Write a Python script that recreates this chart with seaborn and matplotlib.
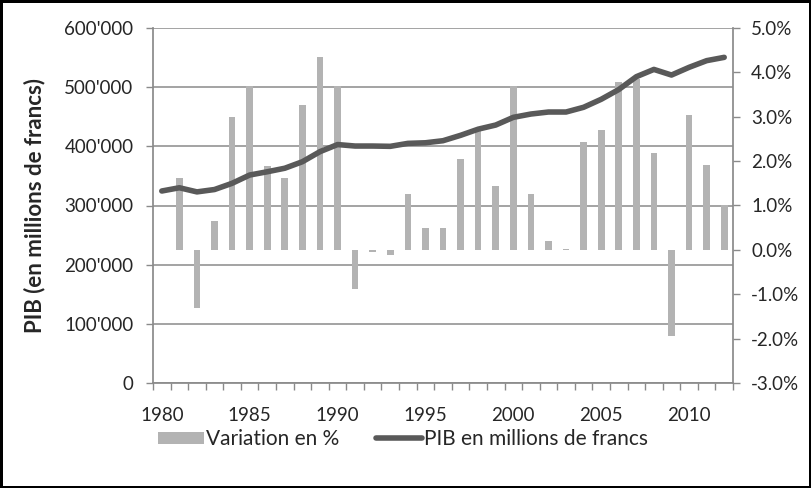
import numpy as np
import pandas as pd
import matplotlib
matplotlib.use("Agg")
import matplotlib.pyplot as plt
import seaborn as sns
from matplotlib.patches import Patch
from matplotlib.lines import Line2D
from matplotlib.ticker import FuncFormatter, FixedLocator

# ---- data ----
years = list(range(1980, 2013))
pib = [324500, 330000, 323000, 327000, 337500, 351500, 357000, 363000, 374000, 391000,
       403000, 400500, 400500, 400000, 405000, 406000, 409500, 418600, 429000, 436000,
       449000, 454600, 458000, 458000, 466000, 479500, 496000, 517700, 530000, 520500,
       533500, 544800, 550400]
var_years = list(range(1981, 2013))
variation = [1.61, -1.31, 0.65, 3.00, 3.69, 1.89, 1.61, 3.27, 4.35, 3.69,
             -0.89, -0.04, -0.12, 1.26, 0.49, 0.49, 2.04, 2.68, 1.43, 3.69,
             1.26, 0.19, 0.02, 2.43, 2.70, 3.78, 3.86, 2.19, -1.94, 3.04,
             1.92, 1.01]
left_ticks = [0, 100000, 200000, 300000, 400000, 500000, 600000]
right_ticks = [-3, -2, -1, 0, 1, 2, 3, 4, 5]
label_years = [1980, 1985, 1990, 1995, 2000, 2005, 2010]

sns.set_theme(style="white")
plt.rcParams['font.family'] = ['Lato', 'DejaVu Sans']

BAR = '#b3b3b3'
LINE = '#595959'
GRID = '#8a8a8a'
FS = 13.5

fig = plt.figure(figsize=(8.11, 4.88), dpi=100)
fig.patch.set_facecolor('white')
fig.patch.set_edgecolor('black')
fig.patch.set_linewidth(2.5)

W, H = 811, 488
x0, x1, ytop, ybot = 153, 733, 28, 383
rect = [x0 / W, 1 - ybot / H, (x1 - x0) / W, (ybot - ytop) / H]

ax = fig.add_axes(rect)          # left axis + grid
ax2 = ax.twinx()                 # right axis, bars
ax3 = ax.twinx()                 # line on left scale

n = len(years)
df_var = pd.DataFrame({"year": [str(y) for y in var_years], "var": variation})
sns.barplot(data=df_var, x="year", y="var", order=[str(y) for y in years],
            color=BAR, saturation=1, width=0.38, ax=ax2, linewidth=0)

df_pib = pd.DataFrame({"pos": np.arange(n), "pib": pib})
sns.lineplot(data=df_pib, x="pos", y="pib", ax=ax3, color=LINE, linewidth=4,
             solid_capstyle='round', solid_joinstyle='round')

# left axis
ax.set_ylim(0, 600000)
ax.set_yticks(left_ticks)
ax.yaxis.set_major_formatter(FuncFormatter(lambda v, p: f"{int(v):,}".replace(",", "'")))
ax.grid(axis='y', color=GRID, linewidth=1.1)
ax.set_axisbelow(True)
ax.set_ylabel("PIB (en millions de francs)", fontsize=16, fontweight='bold')
ax.yaxis.set_label_coords((45 - x0) / (x1 - x0), 0.5)
ax3.set_ylim(0, 600000)
ax3.set_yticks([])
ax3.set_ylabel("")
ax3.set_xlabel("")

# right axis
ax2.set_ylim(-3, 5)
ax2.set_yticks(right_ticks)
ax2.yaxis.set_major_formatter(FuncFormatter(lambda v, p: f"{v:.1f}%"))
ax2.set_ylabel("")
ax2.set_xlabel("")

# x axis
ax.set_xlim(-0.5, n - 0.5)
ax.xaxis.set_major_locator(FixedLocator([years.index(y) for y in label_years]))
ax.set_xticklabels([str(y) for y in label_years])
ax.xaxis.set_minor_locator(FixedLocator(np.arange(-0.5, n, 1.0)))
ax.set_xlabel("")

for a in (ax, ax2, ax3):
    for s in a.spines.values():
        s.set_visible(False)
ax.spines['left'].set_visible(True)
ax.spines['left'].set_color(GRID)
ax.spines['bottom'].set_visible(True)
ax.spines['bottom'].set_color(GRID)
ax2.spines['right'].set_visible(True)
ax2.spines['right'].set_color(GRID)

ax.tick_params(axis='y', which='major', length=5, color=GRID, width=1, labelsize=FS, pad=9, left=True)
ax.tick_params(axis='x', which='major', length=0, labelsize=FS, pad=17)
ax.tick_params(axis='x', which='minor', length=5, color=GRID, width=1, bottom=True)
ax2.tick_params(axis='y', which='major', length=5, color=GRID, width=1, labelsize=FS, pad=8, right=True)
ax3.tick_params(left=False, right=False, labelright=False, labelleft=False)

handles = [Patch(facecolor=BAR, edgecolor='none'),
           Line2D([], [], color=LINE, linewidth=4)]
fig.legend(handles, ["Variation en %", "PIB en millions de francs"],
           loc='center', bbox_to_anchor=(0.497, 0.100), ncol=2, frameon=False,
           fontsize=15, handlelength=2.2, handleheight=0.55, handletextpad=0.1,
           columnspacing=1.8)

fig.savefig("out.png", dpi=100, facecolor=fig.get_facecolor(), edgecolor=fig.get_edgecolor())
